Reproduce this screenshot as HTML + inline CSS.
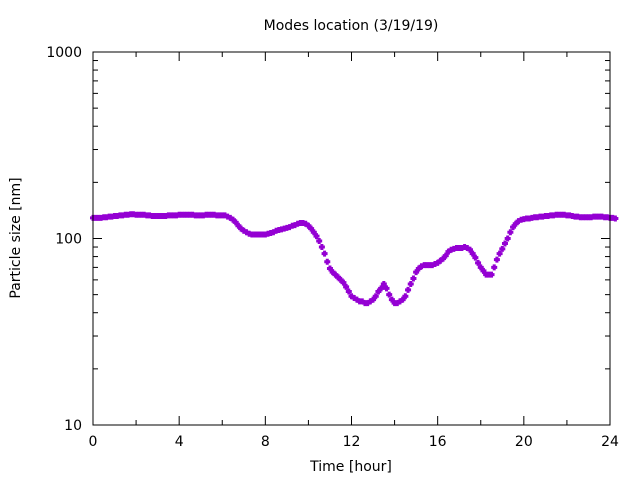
<!DOCTYPE html>
<html><head><meta charset="utf-8"><style>
body{margin:0;background:#fff}
svg{display:block;font-family:"DejaVu Sans","Liberation Sans",sans-serif}
</style></head><body>
<svg id="chart" width="640" height="480" viewBox="0 0 640 480">
<text x="351" y="30" text-anchor="middle" font-size="14">Modes location (3/19/19)</text>
<text x="351" y="471" text-anchor="middle" font-size="14">Time [hour]</text>
<text transform="translate(20,238) rotate(-90)" text-anchor="middle" font-size="14">Particle size [nm]</text>
<g id="axes"></g>
<g id="points"></g>
<rect x="93" y="52" width="517" height="373" fill="none" stroke="#000" stroke-width="1"/>
</svg>
<script>
const xTicks=[0,4,8,12,16,20,24];
const yTicks=[10,100,1000];
const sizes=[129,129,129,129,130,130,131,131,132,132,133,133,134,134,135,135,134,134,134,134,133,133,132,132,132,132,132,132,133,133,133,133,134,134,134,134,134,134,133,133,133,133,134,134,134,134,133,133,133,133,131,129,126,122,117,113,110,108,106,105,105,105,105,105,105,106,107,108,110,111,112,113,114,115,117,118,120,121,121,120,117,113,108,103,97,90,83,75,69,66,64,62,60,58,55,52,49,48,47,46,46,45,45,46,47,49,52,54,57,54,50,47,45,45,46,47,49,53,57,61,66,69,71,72,72,72,72,73,74,76,78,81,85,87,88,89,89,89,90,89,87,83,79,74,70,67,64,64,64,70,77,83,88,94,100,108,115,120,124,126,127,128,128,129,130,130,131,131,132,132,133,133,134,134,134,134,133,133,132,131,131,130,130,130,130,130,131,131,131,131,130,130,129,129,128];
const hours=sizes.map((_,i)=>i*0.125);
const X0=93,X1=610,Y0=425,Y1=52;
const xs=h=>X0+(h-0)/24*(X1-X0);
const ys=v=>Y0-(Math.log10(v)-1)/2*(Y0-Y1);
const NS="http://www.w3.org/2000/svg";
const ax=document.getElementById('axes');
function line(x1,y1,x2,y2){const l=document.createElementNS(NS,'line');l.setAttribute('x1',x1);l.setAttribute('y1',y1);l.setAttribute('x2',x2);l.setAttribute('y2',y2);l.setAttribute('stroke','#000');


ax.appendChild(l);}
function text(x,y,s,anc){const t=document.createElementNS(NS,'text');t.setAttribute('x',x);t.setAttribute('y',y);t.setAttribute('text-anchor',anc);t.setAttribute('font-size','14');t.textContent=s;


ax.appendChild(t);}
xTicks.forEach(h=>{const x=xs(h);line(x,Y0,x,Y0-9);line(x,Y1,x,Y1+9);text(x,446,String(h),'middle');});
for(let h=2;h<24;h+=4){const x=xs(h);line(x,Y0,x,Y0-5);line(x,Y1,x,Y1+5);}
yTicks.forEach(v=>{const y=ys(v);line(X0,y,X0+9,y);line(X1,y,X1-9,y);text(82,y+5,String(v),'end');});
[10,100].forEach(d=>{for(let k=2;k<=9;k++){const y=ys(d*k);line(X0,y,X0+5,y);line(X1,y,X1-5,y);}});
const pg=document.getElementById('points');
hours.forEach((h,i)=>{const x=xs(h),y=ys(sizes[i]);
const p=document.createElementNS(NS,'path');
p.setAttribute('d',`M${x-3},${y-1.5}h6v3h-6zM${x-1.5},${y-3}h3v6h-3z`);
p.setAttribute('fill','#9400d3');


pg.appendChild(p);});
</script>
</body></html>
